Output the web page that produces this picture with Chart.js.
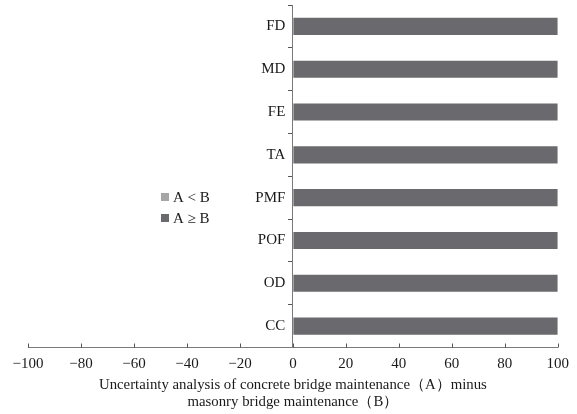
<!DOCTYPE html>
<html><head><meta charset="utf-8">
<script src="https://cdn.jsdelivr.net/npm/chart.js@4.4.1/dist/chart.umd.min.js"></script>
<style>html,body{margin:0;padding:0;background:#fff}</style>
</head><body>
<canvas id="c" width="577" height="414"></canvas>
<script>
const categories = ['FD', 'MD', 'FE', 'TA', 'PMF', 'POF', 'OD', 'CC'];
const seriesNames = ['A < B', 'A \u2265 B'];
const lessValues = [0, 0, 0, 0, 0, 0, 0, 0];
const geqValues = [100, 100, 100, 100, 100, 100, 100, 100];
const xTickValues = [-100, -80, -60, -40, -20, 0, 20, 40, 60, 80, 100];
const xTitle = ['Uncertainty analysis of concrete bridge maintenance\uFF08A\uFF09minus', 'masonry bridge maintenance\uFF08B\uFF09'];
const seriesColors = ['#a6a6a6', '#6a6a6e'];

const FONT = 'Liberation Serif';
const TEXT = '#1a1a1a';
const AXIS = '#7a7a7a';

const innerTicks = {
  id: 'innerTicks',
  afterDraw(chart) {
    const x = chart.scales.x;
    const ctx = chart.ctx;
    ctx.save();
    ctx.strokeStyle = '#555';
    ctx.lineWidth = 1;
    x.ticks.forEach(t => {
      const px = Math.round(x.getPixelForValue(t.value)) + 0.5;
      ctx.beginPath();
      ctx.moveTo(px, x.top);
      ctx.lineTo(px, x.top - 4);
      ctx.stroke();
    });
    ctx.restore();
  }
};

const customLegend = {
  id: 'customLegend',
  afterDraw(chart) {
    const ctx = chart.ctx;
    ctx.save();
    ctx.font = '15px "' + FONT + '"';
    ctx.textBaseline = 'middle';
    ctx.textAlign = 'left';
    chart.data.datasets.forEach((ds, i) => {
      const cy = 197 + i * 21;
      ctx.fillStyle = ds.backgroundColor;
      ctx.fillRect(161, cy - 4, 8, 8);
      ctx.fillStyle = TEXT;
      ctx.fillText(ds.label, 173, cy + 1);
    });
    ctx.restore();
  }
};

new Chart(document.getElementById('c'), {
  type: 'bar',
  data: {
    labels: categories,
    datasets: [
      { label: seriesNames[0], data: lessValues, backgroundColor: seriesColors[0] },
      { label: seriesNames[1], data: geqValues, backgroundColor: seriesColors[1] }
    ]
  },
  options: {
    indexAxis: 'y',
    responsive: false,
    devicePixelRatio: 1,
    animation: false,
    grouped: false,
    barPercentage: 0.4,
    categoryPercentage: 1,
    layout: { padding: { left: 28, right: 16.5, top: 5, bottom: 3.5 } },
    plugins: { legend: { display: false }, tooltip: { enabled: false } },
    scales: {
      x: {
        type: 'linear',
        min: -100, max: 100,
        afterBuildTicks(scale) { scale.ticks = xTickValues.map(v => ({ value: v })); },
        ticks: {
          padding: 8,
          color: TEXT,
          font: { family: FONT, size: 15 },
          callback: v => String(v).replace('-', '\u2212')
        },
        grid: { drawOnChartArea: false, drawTicks: false },
        border: { color: AXIS, width: 1 },
        title: {
          display: true,
          text: xTitle,
          color: TEXT,
          font: { family: FONT, size: 14.8, lineHeight: '17px' },
          padding: { top: -5, bottom: 0 }
        }
      },
      y: {
        position: { x: 0 },
        afterFit(scale) { scale.paddingTop = 0; scale.paddingBottom = 0; },
        ticks: {
          color: TEXT,
          font: { family: FONT, size: 15 },
          callback: function (v) { return this.getLabelForValue(v) + '\u2002'; }
        },
        grid: { drawOnChartArea: false, tickLength: 4, color: '#555', offset: true },
        border: { color: AXIS, width: 1 }
      }
    }
  },
  plugins: [innerTicks, customLegend]
});
</script>
</body></html>
